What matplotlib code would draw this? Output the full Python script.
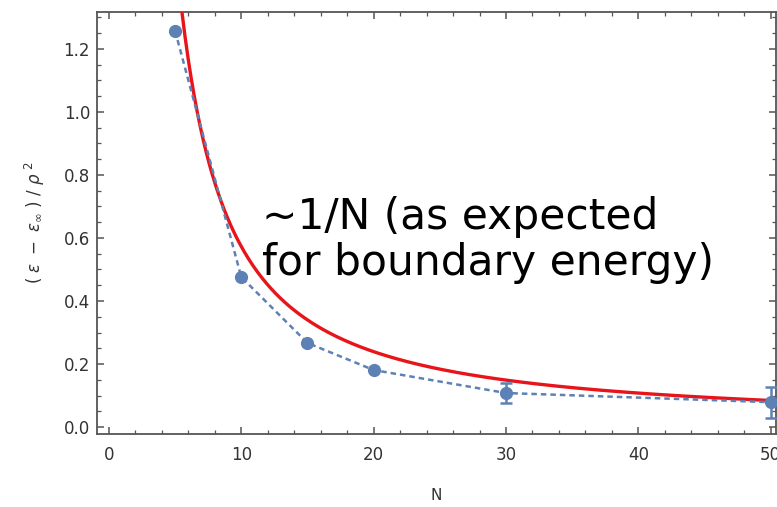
import numpy as np
import matplotlib
matplotlib.use("Agg")
import matplotlib.pyplot as plt
from matplotlib.ticker import MultipleLocator, FormatStrFormatter
from matplotlib.transforms import IdentityTransform

N_vals = [5, 10, 15, 20, 30, 50]
energy = [1.257, 0.476, 0.267, 0.181, 0.108, 0.079]
errors = [0.0, 0.0, 0.0, 0.0, 0.031, 0.049]
# fitted curve coefficients: a/N + b/N^2
fit_a = 3.84
fit_b = 18.9

W, H = 777, 507
fig = plt.figure(figsize=(W/100, H/100), dpi=100)
ax = fig.add_axes([97/W, 1-434/H, (776-97)/W, (434-12)/H])

blue = "#5E81B5"
Nf = np.linspace(4.5, 50, 400)
ax.plot(Nf, fit_a/Nf + fit_b/Nf**2, color="#E8141A", lw=2.4, zorder=3)
ax.errorbar(N_vals, energy, yerr=errors, color=blue, ls=(0, (2.2, 1.6)), lw=1.8,
            marker="o", ms=8.5, capsize=4, capthick=1.8, elinewidth=1.8, zorder=4)

ax.set_xlim(-0.9, 50.4)
ax.set_ylim(-0.022, 1.317)
ax.xaxis.set_major_locator(MultipleLocator(10))
ax.xaxis.set_minor_locator(MultipleLocator(2))
ax.yaxis.set_major_locator(MultipleLocator(0.2))
ax.yaxis.set_minor_locator(MultipleLocator(0.05))
ax.yaxis.set_major_formatter(FormatStrFormatter("%.1f"))
ax.tick_params(which="both", direction="in", top=True, right=True, color="#555555",
               labelsize=12, labelcolor="#333333")
ax.tick_params(which="major", length=5, width=1.1)
ax.tick_params(which="minor", length=3, width=0.9)
ax.tick_params(axis="x", pad=9)
ax.tick_params(axis="y", pad=5)
for s in ax.spines.values():
    s.set_color("#555555")
    s.set_linewidth(1.3)

ax.set_xlabel("N", fontsize=11, color="#333333", labelpad=17)
ax.set_ylabel(r"$(\ \epsilon\ -\ \epsilon_{\infty}\ )\ /\ \rho^{\ 2}$", fontsize=12,
              color="#333333", labelpad=12)

fig.text(262, H-240, "~1/N (as expected\nfor boundary energy)", transform=IdentityTransform(),
         fontsize=30.5, color="black", va="center", ha="left", linespacing=1.15)

fig.savefig("out.png", dpi=100)
